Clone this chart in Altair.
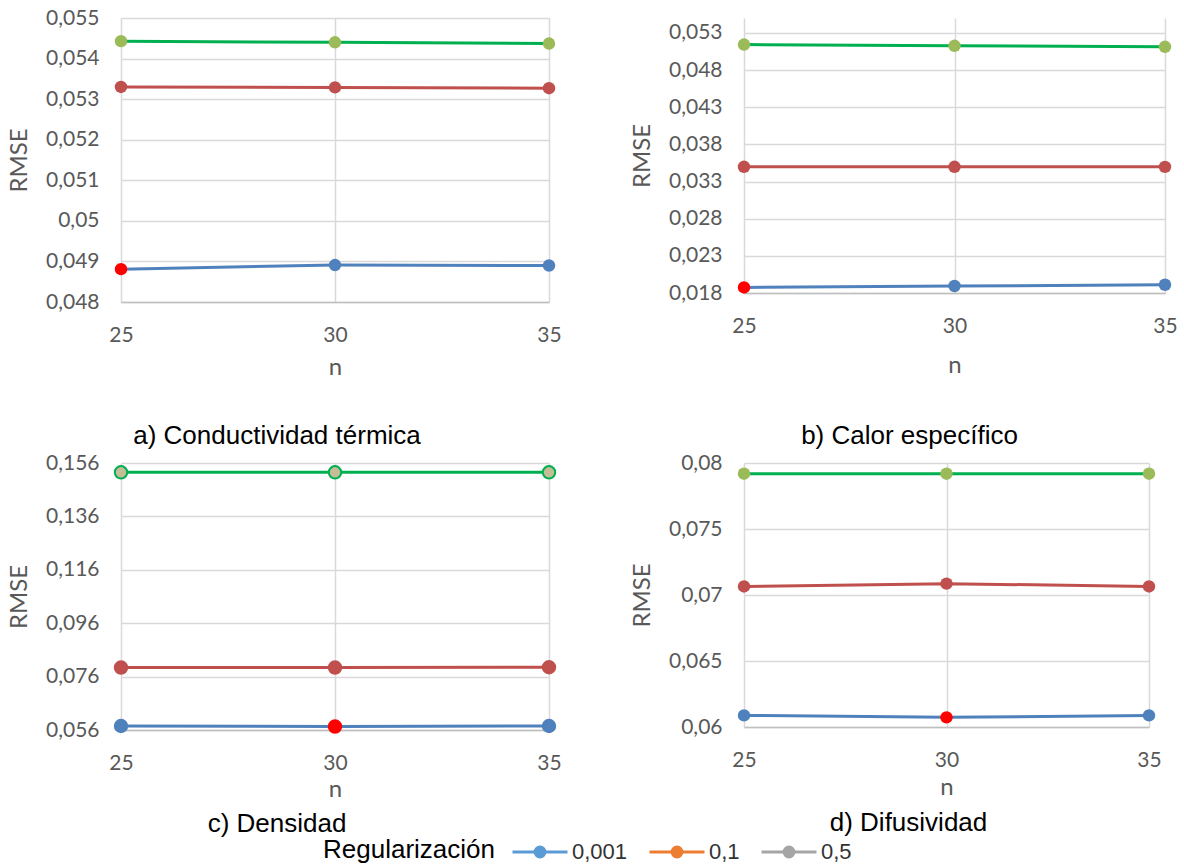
import altair as alt
import pandas as pd

# ---------------- data ----------------
n_values = [25, 30, 35]
reg_labels = ["0,001", "0,1", "0,5"]

# a) Conductividad térmica
a_001 = [0.04881, 0.04891, 0.04890]
a_01 = [0.05330, 0.05329, 0.05327]
a_05 = [0.05443, 0.05440, 0.05437]
# b) Calor específico
b_001 = [0.01875, 0.01894, 0.01911]
b_01 = [0.03498, 0.03498, 0.03497]
b_05 = [0.05143, 0.05126, 0.05112]
# c) Densidad
c_001 = [0.0575, 0.0573, 0.0575]
c_01 = [0.0794, 0.0794, 0.0795]
c_05 = [0.1525, 0.1525, 0.1525]
# d) Difusividad
d_001 = [0.06088, 0.06073, 0.06088]
d_01 = [0.07065, 0.07086, 0.07065]
d_05 = [0.07919, 0.07919, 0.07919]

# n of the best (red) point of the 0,001 series in each panel
best_n = [25, 25, 30, 30]

panel_titles = ["a) Conductividad térmica", "b) Calor específico",
                "c) Densidad", "d) Difusividad"]

ticks_a = [0.048, 0.049, 0.05, 0.051, 0.052, 0.053, 0.054, 0.055]
ticks_b = [0.018, 0.023, 0.028, 0.033, 0.038, 0.043, 0.048, 0.053]
ticks_c = [0.056, 0.076, 0.096, 0.116, 0.136, 0.156]
ticks_d = [0.06, 0.065, 0.07, 0.075, 0.08]

dom_a = [0.048, 0.055]
dom_b = [0.018, 0.055]
dom_c = [0.056, 0.156]
dom_d = [0.06, 0.08]

line_colors = ["#4f81bd", "#c0504d", "#00b050"]
marker_fill = ["#4f81bd", "#c0504d", "#9bbb59"]
marker_fill_c = ["#4f81bd", "#c0504d", "#c4bd97"]
legend_colors = ["#5b9bd5", "#ed7d31", "#a5a5a5"]

LABEL_FONT = "Lato"
TITLE_FONT = "Liberation Sans"
GREY = "#595959"


def panel(series, best, ydom, yticks, w, h, title, dx, toffset, xtpad,
          fills, swidth, extra=None):
    rows = []
    for lab, vals in zip(reg_labels, series):
        for n, v in zip(n_values, vals):
            rows.append({"n": n, "rmse": v, "reg": lab,
                         "best": bool(lab == reg_labels[0] and n == best)})
    df = pd.DataFrame(rows)
    x = alt.X("n:Q",
              scale=alt.Scale(domain=[25, 35], nice=False, zero=False),
              axis=alt.Axis(values=n_values, format="d", title="n", grid=True,
                            labelFlush=False, labelPadding=22, titlePadding=xtpad,
                            domain=True))
    y = alt.Y("rmse:Q",
              scale=alt.Scale(domain=ydom, nice=False, zero=False),
              axis=alt.Axis(values=yticks, title="RMSE", grid=True, domain=False,
                            labelFlush=False, labelPadding=22, titlePadding=14,
                            labelExpr="replace(format(datum.value, '.3~f'), '.', ',')"))
    base = alt.Chart(df)
    lines = base.mark_line(strokeWidth=3).encode(
        x=x, y=y,
        stroke=alt.Stroke("reg:N", scale=alt.Scale(domain=reg_labels, range=line_colors),
                          legend=None),
        detail="reg:N",
    )
    pts = base.mark_point(filled=True, size=155, opacity=1, strokeWidth=swidth).encode(
        x=x, y=y,
        fill=alt.condition("datum.best", alt.value("#ff0000"),
                           alt.Fill("reg:N", scale=alt.Scale(domain=reg_labels, range=fills),
                                    legend=None)),
        stroke=alt.condition("datum.best", alt.value("#ff0000"),
                             alt.Stroke("reg:N",
                                        scale=alt.Scale(domain=reg_labels, range=line_colors),
                                        legend=None)),
    )
    layers = [lines, pts] + ([extra] if extra is not None else [])
    out = alt.layer(*layers)
    if extra is not None:
        out = out.resolve_scale(fill="independent", stroke="independent")
    return out.properties(
        width=w, height=h,
        title=alt.TitleParams(title, orient="bottom", anchor="middle", frame="group",
                              dx=dx, offset=toffset, font=TITLE_FONT, fontSize=26,
                              fontWeight="normal", color="#000000"),
    )


# legend (drawn from an invisible layer that carries the legend's series colours)
legend_path = "M-1,0L1,0M0.18,0A0.18,0.18,0,1,1,-0.18,0A0.18,0.18,0,1,1,0.18,0Z"
leg = alt.Legend(title="Regularización", orient="none", legendX=202, legendY=360,
                 direction="horizontal", titleOrient="left", titleAnchor="end",
                 titleBaseline="bottom", titleFont=TITLE_FONT,
                 titleFontSize=26, titleFontWeight="normal", titleColor="#000000",
                 titlePadding=16, labelFont=TITLE_FONT, labelFontSize=22,
                 labelColor="#333333", labelOffset=3, columnPadding=15,
                 symbolType=legend_path, symbolSize=3025, symbolStrokeWidth=3,
                 symbolOpacity=1)
legend_layer = alt.Chart(pd.DataFrame({"reg": reg_labels})).mark_point(
    filled=True, opacity=0).encode(
    fill=alt.Fill("reg:N", scale=alt.Scale(domain=reg_labels, range=legend_colors), legend=leg),
    stroke=alt.Stroke("reg:N", scale=alt.Scale(domain=reg_labels, range=legend_colors), legend=leg),
)

pa = panel([a_001, a_01, a_05], best_n[0], dom_a, ticks_a, 428, 284,
           panel_titles[0], -58, 44, 10, marker_fill, 0)
pb = panel([b_001, b_01, b_05], best_n[1], dom_b, ticks_b, 421, 275,
           panel_titles[1], -45, 46, 17, marker_fill, 0)
pc = panel([c_001, c_01, c_05], best_n[2], dom_c, ticks_c, 428, 267,
           panel_titles[2], -58, -52, 4, marker_fill_c, 2, extra=legend_layer)
pd_ = panel([d_001, d_01, d_05], best_n[3], dom_d, ticks_d, 405, 264,
            panel_titles[3], -38, 11, 5, marker_fill, 0)

chart = alt.concat(
    pa, pb, pc, pd_, columns=2,
    spacing=alt.RowColnumber(row=161, column=195), bounds="flush",
).resolve_scale(
    fill="independent", stroke="independent"
).properties(
    padding={"left": 7, "top": 7, "right": 5, "bottom": 5},
    background="#ffffff",
).configure_view(stroke=None).configure_axis(
    labelFont=LABEL_FONT, labelFontSize=21, labelColor=GREY,
    titleFont=LABEL_FONT, titleFontSize=24, titleFontWeight="normal", titleColor=GREY,
    gridColor="#d9d9d9", gridWidth=1.5, ticks=False, tickSize=0,
    domainColor="#bfbfbf", domainWidth=1.5,
)

chart.save("out.html", embed_options={"renderer": "svg", "actions": False})
